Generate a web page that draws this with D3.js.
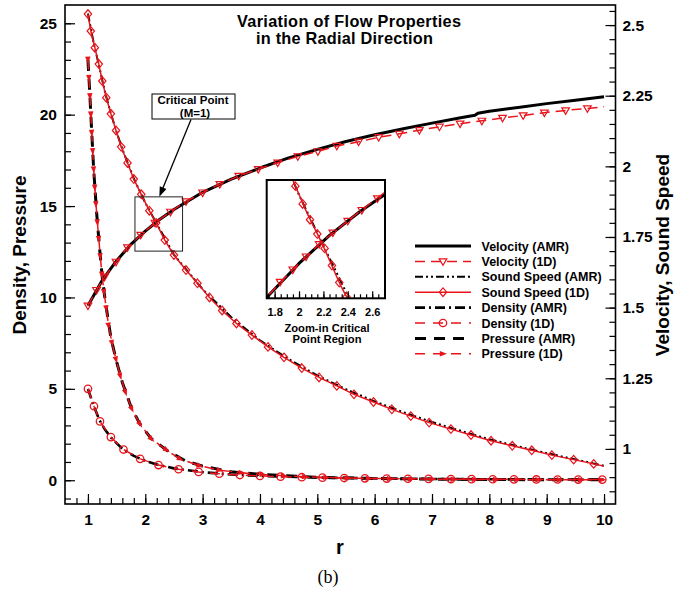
<!DOCTYPE html>
<html>
<head>
<meta charset="utf-8">
<script src="https://cdn.jsdelivr.net/npm/d3@7"></script>
<style>
body { margin: 0; background: #fff; }
</style>
</head>
<body>
<div id="chart"></div>
<script>

// ---- data ----

// Velocity, 1D solution (right axis)
var velR1D = [1.00, 1.15, 1.29, 1.49, 1.69, 1.92, 2.17, 2.44, 2.71, 3.00, 3.30, 3.63, 3.97, 4.31, 4.66, 5.01, 5.34, 5.72, 6.07, 6.43, 6.78, 7.13, 7.49, 7.87, 8.23, 8.59, 8.96, 9.33, 9.71, 10.0];
var vel1D  = [1.507, 1.562, 1.609, 1.662, 1.713, 1.757, 1.800, 1.839, 1.876, 1.907, 1.937, 1.966, 1.990, 2.013, 2.035, 2.053, 2.072, 2.087, 2.103, 2.115, 2.128, 2.140, 2.151, 2.161, 2.171, 2.180, 2.190, 2.198, 2.205, 2.211];

// Velocity, AMR solution
var velRAmr = [1.0, 1.25, 1.5, 1.75, 2.0, 2.25, 2.5, 3.0, 3.5, 4.0, 4.5, 5.0, 5.5, 6.0, 6.5, 7.0, 7.5, 7.75, 7.8, 8.0, 8.5, 9.0, 9.5, 10.0];
var velAmr  = [1.507, 1.597, 1.666, 1.724, 1.771, 1.812, 1.847, 1.908, 1.955, 1.994, 2.030, 2.060, 2.088, 2.112, 2.133, 2.153, 2.172, 2.181, 2.188, 2.195, 2.208, 2.222, 2.234, 2.246];

// Sound speed, 1D solution (right axis)
var sndR1D = [1.00, 1.05, 1.12, 1.19, 1.25, 1.32, 1.40, 1.49, 1.58, 1.69, 1.80, 1.93, 2.07, 2.19, 2.34, 2.50, 2.71, 2.91, 3.12, 3.34, 3.59, 3.86, 4.14, 4.42, 4.73, 5.03, 5.34, 5.64, 5.98, 6.30, 6.63, 6.95, 7.33, 7.68, 8.03, 8.40, 8.74, 9.09, 9.47, 9.82, 10.0];
var snd1D  = [2.539, 2.479, 2.420, 2.362, 2.302, 2.243, 2.186, 2.127, 2.069, 2.012, 1.955, 1.901, 1.843, 1.800, 1.739, 1.686, 1.633, 1.586, 1.536, 1.490, 1.444, 1.403, 1.361, 1.324, 1.286, 1.253, 1.223, 1.193, 1.166, 1.140, 1.116, 1.093, 1.070, 1.049, 1.029, 1.011, 0.995, 0.978, 0.962, 0.947, 0.939];

// Sound speed, AMR solution
var sndRAmr = [1.0, 1.1, 1.2, 1.3, 1.4, 1.5, 1.6, 1.8, 2.0, 2.2, 2.5, 3.0, 3.5, 4.0, 4.5, 5.0, 5.5, 6.0, 6.5, 7.0, 7.5, 8.0, 8.5, 9.0, 9.5, 10.0];
var sndAmr  = [2.541, 2.437, 2.350, 2.261, 2.187, 2.121, 2.061, 1.957, 1.871, 1.797, 1.687, 1.565, 1.466, 1.384, 1.318, 1.260, 1.211, 1.168, 1.130, 1.095, 1.064, 1.034, 1.009, 0.985, 0.963, 0.940];

// Density, 1D solution (left axis)
var denR1D = [1.00, 1.105, 1.21, 1.40, 1.62, 1.91, 2.23, 2.58, 2.93, 3.29, 3.65, 4.00, 4.36, 4.73, 5.09, 5.47, 5.83, 6.21, 6.58, 6.94, 7.33, 7.69, 8.06, 8.43, 8.82, 9.19, 9.55, 9.97];
var den1D  = [5.0, 4.05, 3.22, 2.36, 1.68, 1.17, 0.83, 0.60, 0.455, 0.355, 0.285, 0.235, 0.196, 0.165, 0.141, 0.121, 0.105, 0.092, 0.082, 0.073, 0.065, 0.059, 0.053, 0.048, 0.044, 0.040, 0.037, 0.034];

// Density, AMR solution
var denRAmr = [1.0, 1.1, 1.2, 1.3, 1.4, 1.6, 1.8, 2.0, 2.25, 2.5, 3.0, 3.5, 4.0, 5.0, 6.0, 7.0, 8.0, 9.0, 10.0];
var denAmr  = [5.0, 4.08, 3.29, 2.76, 2.34, 1.72, 1.33, 1.06, 0.82, 0.65, 0.44, 0.313, 0.235, 0.146, 0.099, 0.071, 0.053, 0.041, 0.034];

// Pressure, 1D solution (left axis)
var presR1D = [1.0, 1.018, 1.035, 1.051, 1.066, 1.083, 1.10, 1.12, 1.14, 1.165, 1.19, 1.215, 1.245, 1.28, 1.32, 1.36, 1.42, 1.49, 1.565, 1.655, 1.765, 1.91, 2.11, 2.37, 2.61, 2.95, 3.30, 3.68, 4.05, 4.42, 4.79, 5.16, 5.53, 5.90, 6.27, 6.64, 7.01, 7.38, 7.75, 8.12, 8.49, 8.86, 9.23, 9.60, 9.97];
var pres1D  = [23.0, 22.0, 21.0, 20.0, 19.0, 18.0, 17.0, 16.0, 15.1, 14.1, 13.2, 12.25, 11.25, 10.3, 9.4, 8.45, 7.5, 6.6, 5.7, 4.8, 3.9, 3.06, 2.25, 1.65, 1.16, 0.79, 0.55, 0.41, 0.31, 0.24, 0.19, 0.15, 0.12, 0.10, 0.084, 0.070, 0.060, 0.052, 0.045, 0.039, 0.035, 0.031, 0.027, 0.024, 0.022];

// Pressure, AMR solution
var presRAmr = [1.0, 1.03, 1.06, 1.1, 1.15, 1.2, 1.25, 1.3, 1.4, 1.5, 1.6, 1.75, 1.9, 2.1, 2.4, 2.7, 3.0, 3.5, 4.0, 5.0, 6.0, 7.0, 8.0, 9.0, 10.0];
var presAmr  = [23.0, 21.3, 19.4, 17.0, 14.7, 12.8, 11.1, 9.85, 7.8, 6.48, 5.35, 4.02, 3.11, 2.29, 1.58, 1.06, 0.77, 0.46, 0.32, 0.16, 0.096, 0.06, 0.039, 0.027, 0.021];

// symbols shown in the zoom-in box (1D solution)
var insetVelR = [1.845, 1.949, 2.058, 2.165, 2.277, 2.40, 2.515, 2.643];
var insetVel  = [1.744, 1.762, 1.781, 1.799, 1.816, 1.833, 1.849, 1.866];
var insetSndR = [1.97, 2.03, 2.09, 2.15, 2.21, 2.27, 2.33, 2.39];
var insetSnd  = [1.884, 1.858, 1.835, 1.814, 1.793, 1.768, 1.743, 1.722];

// tick labels
var xTicks = [1, 2, 3, 4, 5, 6, 7, 8, 9, 10];
var yLeftTicks = [0, 5, 10, 15, 20, 25];
var yRightTicks = [1, 1.25, 1.5, 1.75, 2, 2.25, 2.5];
var insetTicks = [1.8, 2, 2.2, 2.4, 2.6];

var legendNames = ["Velocity (AMR)", "Velocity (1D)", "Sound Speed (AMR)", "Sound Speed (1D)",
                   "Density (AMR)", "Density (1D)", "Pressure (AMR)", "Pressure (1D)"];


// ---- drawing ----

var FONT = "'Liberation Sans', Arial, Helvetica, sans-serif";
var RED = "#e8141b";

var svg = d3.select("#chart").append("svg")
    .attr("width", 674)
    .attr("height", 592);

svg.append("rect").attr("width", 674).attr("height", 592).attr("fill", "#fff");

var box = {left: 65, right: 615.5, top: 5, bottom: 504};

var x = d3.scaleLinear().domain([0.6, 10.2]).range([box.left, box.right]);
var yL = d3.scaleLinear().domain([-1.3, 26]).range([box.bottom, box.top]);
var yR = d3.scaleLinear().domain([0.805, 2.571]).range([box.bottom, box.top]);

function zip(a, b) {
    return a.map(function(d, i) { return [d, b[i]]; });
}

// series styles (legend order)
var series = [
    {r: velRAmr, v: velAmr, y: yR, color: "#000", width: 3, dash: null, marker: null},
    {r: velR1D, v: vel1D, y: yR, color: RED, width: 1.5, dash: "10,6", marker: "tri", skipLast: true},
    {r: sndRAmr, v: sndAmr, y: yR, color: "#000", width: 2, dash: "8,3,2,3,2,3", marker: null},
    {r: sndR1D, v: snd1D, y: yR, color: RED, width: 1.5, dash: null, marker: "dia", skipLast: true},
    {r: denRAmr, v: denAmr, y: yL, color: "#000", width: 2.6, dash: "10,4,2,4", marker: null},
    {r: denR1D, v: den1D, y: yL, color: RED, width: 1.5, dash: "10,8", marker: "circ"},
    {r: presRAmr, v: presAmr, y: yL, color: "#000", width: 3, dash: "11,8", marker: null},
    {r: presR1D, v: pres1D, y: yL, color: RED, width: 1.5, dash: "10,8", marker: "arrow"}
];

function drawMarker(g, type, px, py, ang) {
    if (type == "tri") {
        g.append("path")
            .attr("d", "M" + (px - 3.8) + "," + (py - 2.6) + "L" + (px + 3.8) + "," + (py - 2.6) + "L" + px + "," + (py + 3.9) + "Z")
            .attr("fill", "none").attr("stroke", RED).attr("stroke-width", 1.2);
    } else if (type == "dia") {
        g.append("path")
            .attr("d", "M" + px + "," + (py - 4.3) + "L" + (px + 3.7) + "," + py + "L" + px + "," + (py + 4.3) + "L" + (px - 3.7) + "," + py + "Z")
            .attr("fill", "none").attr("stroke", RED).attr("stroke-width", 1.2);
    } else if (type == "circ") {
        g.append("circle")
            .attr("cx", px).attr("cy", py).attr("r", 3.7)
            .attr("fill", "none").attr("stroke", RED).attr("stroke-width", 1.3);
    } else if (type == "arrow") {
        g.append("path")
            .attr("d", "M4,0L-3.2,-2.7L-3.2,2.7Z")
            .attr("transform", "translate(" + px + "," + py + ") rotate(" + ang + ")")
            .attr("fill", RED);
    }
}

function drawSeries(g, s, sx, sy, markR, markV) {
    var pts = zip(s.r, s.v);
    var line = d3.line()
        .x(function(d) { return sx(d[0]); })
        .y(function(d) { return sy(d[1]); });

    g.append("path")
        .datum(pts)
        .attr("d", line)
        .attr("fill", "none")
        .attr("stroke", s.color)
        .attr("stroke-width", s.width)
        .attr("stroke-linejoin", "round")
        .attr("stroke-dasharray", s.dash);

    if (!s.marker) return;
    var mpts = markR ? zip(markR, markV) : pts;
    var n = mpts.length - (s.skipLast && !markR ? 1 : 0);
    for (var i = 0; i < n; i++) {
        var a = mpts[Math.max(i - 1, 0)], b = mpts[Math.min(i + 1, mpts.length - 1)];
        var ang = Math.atan2(sy(b[1]) - sy(a[1]), sx(b[0]) - sx(a[0])) * 180 / Math.PI;
        drawMarker(g, s.marker, sx(mpts[i][0]), sy(mpts[i][1]), ang);
    }
}

svg.append("clipPath").attr("id", "plotClip").append("rect")
    .attr("x", box.left).attr("y", box.top)
    .attr("width", box.right - box.left).attr("height", box.bottom - box.top);

var plot = svg.append("g").attr("clip-path", "url(#plotClip)");

// AMR lines below, 1D lines with symbols on top
[0, 2, 4, 6, 1, 3, 5, 7].forEach(function(i) {
    drawSeries(plot, series[i], x, series[i].y);
});

// region that is zoomed in the inset
plot.append("rect")
    .attr("x", x(1.82)).attr("y", yR(1.892))
    .attr("width", x(2.65) - x(1.82)).attr("height", yR(1.70) - yR(1.892))
    .attr("fill", "none").attr("stroke", "#222").attr("stroke-width", 1);


// ---- axes ----

function styleAxis(g, size) {
    g.select(".domain").remove();
    g.selectAll("line").attr("stroke", "#000").attr("stroke-width", 1.2);
    g.selectAll("text")
        .attr("font-family", FONT)
        .attr("font-weight", "bold")
        .attr("font-size", size)
        .attr("fill", "#000");
}

var fmt = function(d) { return String(+d.toFixed(2)); };

svg.append("g").attr("transform", "translate(0," + box.bottom + ")")
    .call(d3.axisBottom(x).tickValues(d3.range(0.8, 10.05, 0.2)).tickSize(-6).tickFormat(""))
    .call(styleAxis, 15);
svg.append("g").attr("transform", "translate(0," + box.bottom + ")")
    .call(d3.axisBottom(x).tickValues(xTicks).tickSize(-10).tickPadding(9.5).tickFormat(fmt))
    .call(styleAxis, 15.5);

svg.append("g").attr("transform", "translate(" + box.left + ",0)")
    .call(d3.axisLeft(yL).tickValues(d3.range(-1, 25.5, 1)).tickSize(-6).tickFormat(""))
    .call(styleAxis, 15);
svg.append("g").attr("transform", "translate(" + box.left + ",0)")
    .call(d3.axisLeft(yL).tickValues(yLeftTicks).tickSize(-10).tickPadding(8).tickFormat(fmt))
    .call(styleAxis, 15.5);

svg.append("g").attr("transform", "translate(" + box.right + ",0)")
    .call(d3.axisRight(yR).tickValues(d3.range(0.85, 2.56, 0.05)).tickSize(-6).tickFormat(""))
    .call(styleAxis, 15);
svg.append("g").attr("transform", "translate(" + box.right + ",0)")
    .call(d3.axisRight(yR).tickValues(yRightTicks).tickSize(-10).tickPadding(7).tickFormat(fmt))
    .call(styleAxis, 15.5);

svg.append("rect")
    .attr("x", box.left).attr("y", box.top)
    .attr("width", box.right - box.left).attr("height", box.bottom - box.top)
    .attr("fill", "none").attr("stroke", "#000").attr("stroke-width", 1.6);

// axis titles
function label(txt, px, py, size, anchor, rot) {
    var t = svg.append("text")
        .attr("x", px).attr("y", py)
        .attr("font-family", FONT)
        .attr("font-weight", "bold")
        .attr("font-size", size)
        .attr("text-anchor", anchor || "start")
        .text(txt);
    if (rot) t.attr("transform", "rotate(" + rot + "," + px + "," + py + ")");
    return t;
}

label("r", 340, 554, 20, "middle");
label("Density, Pressure", 25.5, 255, 19, "middle", -90);
label("Velocity, Sound Speed", 669, 255, 19, "middle", -90);

label("Variation of Flow Properties", 237, 27, 16.3).attr("textLength", 224);
label("in the Radial Direction", 256, 44, 16.3).attr("textLength", 177);


// ---- critical point note ----

svg.append("rect")
    .attr("x", 152).attr("y", 94).attr("width", 83).attr("height", 25)
    .attr("fill", "#fff").attr("stroke", "#000").attr("stroke-width", 1);
label("Critical Point", 193, 104, 11.5, "middle");
label("(M=1)", 195, 116.5, 11.5, "middle");

var tip = [x(2.245), yR(1.892)];
var tail = [191, 119.5];
var dx = tip[0] - tail[0], dy = tip[1] - tail[1];
var len = Math.sqrt(dx * dx + dy * dy);
svg.append("line")
    .attr("x1", tail[0]).attr("y1", tail[1])
    .attr("x2", tip[0] - dx / len * 6).attr("y2", tip[1] - dy / len * 6)
    .attr("stroke", "#000").attr("stroke-width", 1.3);
svg.append("path")
    .attr("d", "M0,0L-10,-3.6L-10,3.6Z")
    .attr("transform", "translate(" + tip[0] + "," + tip[1] + ") rotate(" + (Math.atan2(dy, dx) * 180 / Math.PI) + ")")
    .attr("fill", "#000");


// ---- inset ----

var inBox = {left: 266.7, right: 385, top: 180, bottom: 298.3};
var xi = d3.scaleLinear().domain([1.735, 2.705]).range([inBox.left, inBox.right]);
var yi = d3.scaleLinear().domain([1.72, 1.893]).range([inBox.bottom, inBox.top]);

svg.append("rect")
    .attr("x", inBox.left).attr("y", inBox.top)
    .attr("width", inBox.right - inBox.left).attr("height", inBox.bottom - inBox.top)
    .attr("fill", "#fff");

svg.append("clipPath").attr("id", "insetClip").append("rect")
    .attr("x", inBox.left).attr("y", inBox.top)
    .attr("width", inBox.right - inBox.left).attr("height", inBox.bottom - inBox.top);

var inset = svg.append("g").attr("clip-path", "url(#insetClip)");
drawSeries(inset, series[0], xi, yi);
drawSeries(inset, series[2], xi, yi);
drawSeries(inset, series[1], xi, yi, insetVelR, insetVel);
drawSeries(inset, series[3], xi, yi, insetSndR, insetSnd);

svg.append("g").attr("transform", "translate(0," + inBox.bottom + ")")
    .call(d3.axisBottom(xi).tickValues(d3.range(1.75, 2.705, 0.05)).tickSize(-4).tickFormat(""))
    .call(styleAxis, 11);
svg.append("g").attr("transform", "translate(0," + inBox.bottom + ")")
    .call(d3.axisBottom(xi).tickValues(insetTicks).tickSize(-7).tickPadding(10).tickFormat(fmt))
    .call(styleAxis, 11);

svg.append("rect")
    .attr("x", inBox.left).attr("y", inBox.top)
    .attr("width", inBox.right - inBox.left).attr("height", inBox.bottom - inBox.top)
    .attr("fill", "none").attr("stroke", "#000").attr("stroke-width", 2);

label("Zoom-in Critical", 327, 331.5, 11.2, "middle");
label("Point Region", 327, 343, 11.2, "middle");


// ---- legend ----

legendNames.forEach(function(name, i) {
    var s = series[i];
    var ly = 246 + i * 15.4;
    var lg = svg.append("g");
    lg.append("line")
        .attr("x1", 415).attr("x2", 471).attr("y1", ly).attr("y2", ly)
        .attr("stroke", s.color)
        .attr("stroke-width", s.width)
        .attr("stroke-dasharray", s.dash);
    if (s.marker) drawMarker(lg, s.marker, 443, ly, 0);
    lg.append("text")
        .attr("x", 481.5).attr("y", ly + 4.5)
        .attr("font-family", FONT)
        .attr("font-weight", "bold")
        .attr("font-size", 12.5)
        .text(name);
});

// figure caption
svg.append("text")
    .attr("x", 328).attr("y", 583)
    .attr("text-anchor", "middle")
    .attr("font-family", "'Liberation Serif', 'Times New Roman', serif")
    .attr("font-size", 18)
    .text("(b)");

</script>
</body>
</html>
